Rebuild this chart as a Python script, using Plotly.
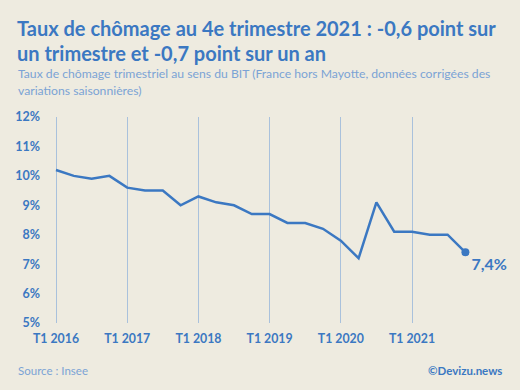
import plotly.graph_objects as go

years = [2016, 2017, 2018, 2019, 2020, 2021]
quarters = ["T1", "T2", "T3", "T4"]
labels = [f"{q} {y}" for y in years for q in quarters]
rates = [10.2, 10.0, 9.9, 10.0,
         9.6, 9.5, 9.5, 9.0,
         9.3, 9.1, 9.0, 8.7,
         8.7, 8.4, 8.4, 8.2,
         7.8, 7.2, 9.1, 8.1,
         8.1, 8.0, 8.0, 7.4]
y_ticks = [5, 6, 7, 8, 9, 10, 11, 12]
y_tick_text = [f"{v}%" for v in y_ticks]
last_label = "7,4%"
title_lines = ["Taux de chômage au 4e trimestre 2021 : -0,6 point sur",
               "un trimestre et -0,7 point sur un an"]
subtitle_lines = ["Taux de chômage trimestriel au sens du BIT (France hors Mayotte, données corrigées des",
                  "variations saisonnières)"]

W, H = 520, 390
L, R, T, B = 52, 19, 117, 67
PW, PH = W - L - R, H - T - B

def px(x):
    return (x - L) / PW

def py(y):
    return (H - B - y) / PH

BLUE = "#3b78c2"
LIGHT = "#7ba3d5"
GRID = "#a9c1dc"
BG = "#eeebe0"
FONT = "Lato"

idx = list(range(len(labels)))
fig = go.Figure()
fig.add_trace(go.Scatter(x=idx, y=rates, mode="lines",
                         line=dict(color=BLUE, width=2.5), hoverinfo="skip"))
fig.add_trace(go.Scatter(x=[idx[-1]], y=[rates[-1]], mode="markers+text",
                         marker=dict(color=BLUE, size=8),
                         text=[last_label], textposition="bottom right",
                         cliponaxis=False,
                         textfont=dict(family=FONT, size=16, color=BLUE, weight="bold"),
                         hoverinfo="skip"))

ann = []
for i, line in enumerate(title_lines):
    ann.append(dict(text=line, xref="paper", yref="paper", x=px(15), y=py(28 + 25 * i),
                    xanchor="left", yanchor="middle", showarrow=False,
                    font=dict(family=FONT, size=20, color=BLUE, weight="bold")))
for i, line in enumerate(subtitle_lines):
    ann.append(dict(text=line, xref="paper", yref="paper", x=px(16), y=py(73 + 17 * i),
                    xanchor="left", yanchor="middle", showarrow=False,
                    font=dict(family=FONT, size=12.2, color=LIGHT)))
ann.append(dict(text="Source : Insee", xref="paper", yref="paper", x=px(16), y=py(370),
                xanchor="left", yanchor="middle", showarrow=False,
                font=dict(family=FONT, size=11.5, color=LIGHT)))
ann.append(dict(text="©Devizu.news", xref="paper", yref="paper", x=px(504), y=py(370),
                xanchor="right", yanchor="middle", showarrow=False,
                font=dict(family=FONT, size=11.5, color=BLUE, weight="bold")))

fig.update_layout(
    width=W, height=H,
    margin=dict(l=L, r=R, t=T, b=B),
    paper_bgcolor=BG, plot_bgcolor=BG,
    showlegend=False,
    font=dict(family=FONT, color=BLUE),
    xaxis=dict(range=[-0.225, 25], tickvals=idx[::4], ticktext=labels[::4],
               showgrid=True, gridcolor=GRID, gridwidth=1,
               zeroline=False, showline=False, ticks="",
               ticklabelstandoff=7,
               tickfont=dict(family=FONT, size=12.3, color=BLUE, weight="bold")),
    yaxis=dict(range=[5, 12], tickvals=y_ticks, ticktext=y_tick_text,
               showgrid=False, zeroline=False, showline=False,
               ticklabelstandoff=11,
               tickfont=dict(family=FONT, size=12.5, color=BLUE, weight="bold")),
    annotations=ann,
)

fig.write_html("out.html", config={"displayModeBar": False},
               post_script="document.body.style.margin='0';")
